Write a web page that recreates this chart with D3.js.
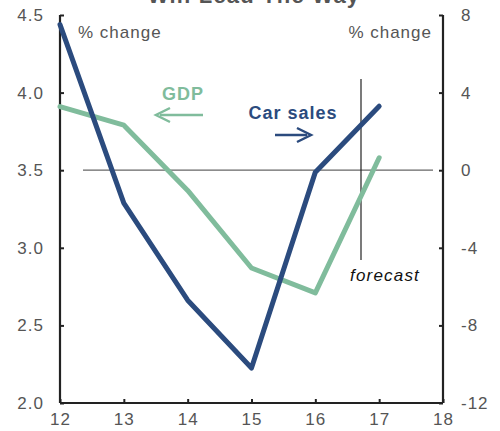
<!DOCTYPE html>
<html>
<head>
<meta charset="utf-8">
<script src="https://cdn.jsdelivr.net/npm/d3@7"></script>
<style>
  body { margin: 0; background: #fff; }
  text { font-family: "Liberation Sans", Arial, sans-serif; }
</style>
</head>
<body>
<svg width="500" height="431"></svg>
<script>
var years = [12, 13, 14, 15, 16, 17];
var gdp = [3.91, 3.79, 3.37, 2.87, 2.71, 3.58];
var carSales = [7.5, -1.7, -6.7, -10.2, -0.1, 3.3];
var leftTicks = [2.0, 2.5, 3.0, 3.5, 4.0, 4.5];
var rightTicks = [-12, -8, -4, 0, 4, 8];
var xTicks = [12, 13, 14, 15, 16, 17, 18];

var svg = d3.select("svg");
var plotL = 60, plotR = 443, plotT = 15, plotB = 403;

var x = d3.scaleLinear().domain([12, 18]).range([plotL, plotR]);
var yL = d3.scaleLinear().domain([2, 4.5]).range([plotB, plotT]);
var yR = d3.scaleLinear().domain([-12, 8]).range([plotB, plotT]);

var grey = "#555";

// title, cut off at the top
svg.append("text")
    .attr("x", 254).attr("y", 3)
    .attr("text-anchor", "middle")
    .attr("font-size", 22).attr("font-weight", "bold")
    .attr("letter-spacing", 1.2)
    .attr("fill", "#555")
    .text("Will Lead The Way");

// zero line
svg.append("line")
    .attr("x1", 83).attr("x2", 433)
    .attr("y1", yR(0)).attr("y2", yR(0))
    .attr("stroke", "#666").attr("stroke-width", 1.2);

// forecast marker
svg.append("line")
    .attr("x1", 361).attr("x2", 361)
    .attr("y1", 79).attr("y2", 260)
    .attr("stroke", "#222").attr("stroke-width", 1.2);
svg.append("text")
    .attr("x", 385).attr("y", 281)
    .attr("text-anchor", "middle")
    .attr("font-size", 17).attr("font-style", "italic").attr("letter-spacing", 1.2)
    .attr("fill", "#111")
    .text("forecast");

// axes
var axL = svg.append("g").attr("transform", "translate(" + plotL + ",0)")
    .call(d3.axisRight(yL).tickValues(leftTicks).tickSize(4).tickFormat(""));
var axR = svg.append("g").attr("transform", "translate(" + plotR + ",0)")
    .call(d3.axisLeft(yR).tickValues(rightTicks).tickSize(4).tickFormat(""));
var axB = svg.append("g").attr("transform", "translate(0," + plotB + ")")
    .call(d3.axisTop(x).tickValues(xTicks).tickSize(4).tickFormat(""));
[axL, axR, axB].forEach(function(a) {
  a.select(".domain").attr("stroke", "#222").attr("stroke-width", 2.2);
  a.selectAll(".tick line").attr("stroke", "#222").attr("stroke-width", 2);
});
axB.select(".domain").attr("d", "M" + plotL + ",0H" + plotR);
axL.select(".domain").attr("d", "M0," + plotT + "V" + plotB);
axR.select(".domain").attr("d", "M0," + plotT + "V" + plotB);

// tick labels
function label(sel) {
  return sel.attr("font-size", 17).attr("letter-spacing", 1).attr("fill", grey);
}
label(svg.selectAll(".ltick").data(leftTicks).enter().append("text")
    .attr("x", 44).attr("y", d => yL(d) + 6)
    .attr("text-anchor", "end"))
    .text(d => d.toFixed(1));
label(svg.selectAll(".rtick").data(rightTicks).enter().append("text")
    .attr("x", 461).attr("y", d => yR(d) + 6)
    .attr("text-anchor", "start"))
    .text(d => d);
label(svg.selectAll(".xtick").data(xTicks).enter().append("text")
    .attr("x", d => x(d) + 0.5).attr("y", 425)
    .attr("text-anchor", "middle"))
    .text(d => d);

label(svg.append("text").attr("x", 78).attr("y", 38)).text("% change");
label(svg.append("text").attr("x", 432).attr("y", 38).attr("text-anchor", "end")).text("% change");

// lines
var gdpColor = "#80bc9c", carColor = "#2b4b7e";
var lineL = d3.line().x((d, i) => x(years[i])).y(d => yL(d));
var lineR = d3.line().x((d, i) => x(years[i])).y(d => yR(d));

svg.append("path").datum(gdp).attr("d", lineL)
    .attr("fill", "none").attr("stroke", gdpColor).attr("stroke-width", 5)
    .attr("stroke-linecap", "round").attr("stroke-linejoin", "round");
svg.append("path").datum(carSales).attr("d", lineR)
    .attr("fill", "none").attr("stroke", carColor).attr("stroke-width", 5)
    .attr("stroke-linecap", "round").attr("stroke-linejoin", "round");

// labels with arrows
function arrow(x1, x2, y, color) {
  var dir = x2 > x1 ? 1 : -1;
  svg.append("line").attr("x1", x1).attr("x2", x2 - dir * 4).attr("y1", y).attr("y2", y)
      .attr("stroke", color).attr("stroke-width", 2.5);
  svg.append("path")
      .attr("d", "M" + (x2 - dir * 14) + "," + (y - 7) + "L" + x2 + "," + y + "L" + (x2 - dir * 14) + "," + (y + 7))
      .attr("fill", "none").attr("stroke", color).attr("stroke-width", 2.5);
}
svg.append("text").attr("x", 183).attr("y", 100).attr("text-anchor", "middle")
    .attr("font-size", 18).attr("font-weight", "bold").attr("letter-spacing", 1)
    .attr("fill", gdpColor).text("GDP");
arrow(203, 156, 115, gdpColor);
svg.append("text").attr("x", 293).attr("y", 119).attr("text-anchor", "middle")
    .attr("font-size", 18).attr("font-weight", "bold").attr("letter-spacing", 1)
    .attr("fill", carColor).text("Car sales");
arrow(275, 311, 135, carColor);
</script>
</body>
</html>
